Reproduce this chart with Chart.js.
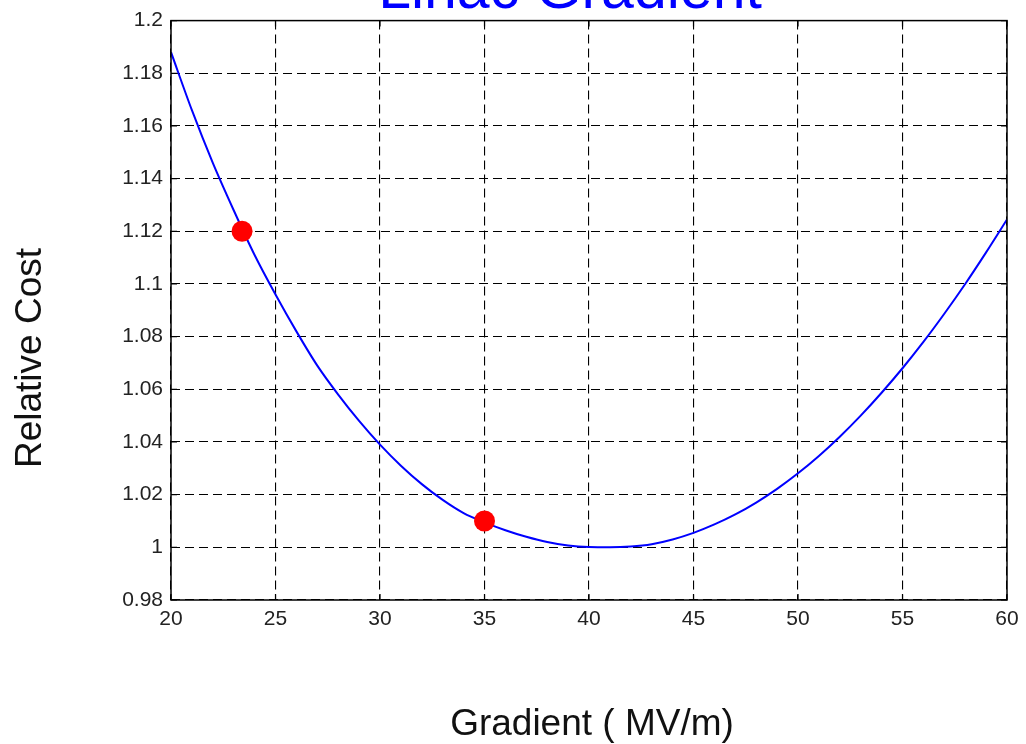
<!DOCTYPE html>
<html>
<head>
<meta charset="utf-8">
<script src="https://cdn.jsdelivr.net/npm/chart.js@4/dist/chart.umd.min.js"></script>
<style>
  body { margin: 0; background: #fff; }
  #wrap { width: 1026px; height: 744px; position: relative; }
</style>
</head>
<body>
<div id="wrap"><canvas id="grafico"></canvas></div>
<script>
// values
const gradiente = [20, 21, 22, 23, 24, 25, 26, 27, 28, 29, 30, 31, 32, 33, 34, 35, 36, 37, 38, 39, 40,
                   41, 42, 43, 44, 45, 46, 47, 48, 49, 50, 51, 52, 53, 54, 55, 56, 57, 58, 59, 60];
const costo = [1.188, 1.166, 1.146, 1.128, 1.111, 1.096, 1.082, 1.069, 1.058, 1.048, 1.039,
               1.031, 1.024, 1.018, 1.013, 1.0095, 1.0065, 1.004, 1.002, 1.0007, 1.0001,
               1.0, 1.0003, 1.0012, 1.003, 1.0055, 1.0087, 1.0125, 1.017, 1.0222, 1.0281,
               1.0347, 1.042, 1.05, 1.0587, 1.068, 1.078, 1.0887, 1.1, 1.112, 1.1245];
const puntosX = [23.4, 35];
const puntosY = [1.12, 1.01];

const titulo = 'Linac Gradient';
const tituloX = 'Gradient ( MV/m)';
const tituloY = 'Relative Cost';

const fuente = '"Liberation Sans", Arial, sans-serif';

const marco = {
    id: 'marco',
    afterDraw(chart) {
        const { ctx, chartArea: a, scales } = chart;
        ctx.save();
        ctx.strokeStyle = '#000';
        ctx.lineWidth = 1.5;
        ctx.setLineDash([]);
        ctx.strokeRect(a.left, a.top, a.right - a.left, a.bottom - a.top);

        // marcas hacia adentro, estilo matlab
        ctx.lineWidth = 1.2;
        const largo = 6;
        scales.x.ticks.forEach(t => {
            const px = scales.x.getPixelForValue(t.value);
            ctx.beginPath();
            ctx.moveTo(px, a.bottom); ctx.lineTo(px, a.bottom - largo);
            ctx.moveTo(px, a.top); ctx.lineTo(px, a.top + largo);
            ctx.stroke();
        });
        scales.y.ticks.forEach(t => {
            const py = scales.y.getPixelForValue(t.value);
            ctx.beginPath();
            ctx.moveTo(a.left, py); ctx.lineTo(a.left + largo, py);
            ctx.moveTo(a.right, py); ctx.lineTo(a.right - largo, py);
            ctx.stroke();
        });

        // textos
        ctx.fillStyle = '#0000ff';
        ctx.font = '59px ' + fuente;
        ctx.textAlign = 'center';
        ctx.textBaseline = 'alphabetic';
        ctx.fillText(titulo, 570, 8);

        ctx.fillStyle = '#111';
        ctx.font = '37px ' + fuente;
        ctx.textBaseline = 'middle';
        ctx.fillText(tituloX, 592, 725);

        ctx.translate(31, 358);
        ctx.rotate(-Math.PI / 2);
        ctx.fillText(tituloY, 0, 0);
        ctx.restore();
    }
};

const ctx = document.getElementById('grafico').getContext('2d');
const grafico = new Chart(ctx, {
    type: 'scatter',
    data: {
        datasets: [{
            label: 'cost',
            data: gradiente.map((g, i) => ({ x: g, y: costo[i] })),
            showLine: true,
            borderColor: '#0000ff',
            borderWidth: 2,
            pointRadius: 0,
            cubicInterpolationMode: 'monotone',
            fill: false,
            order: 2
        }, {
            label: 'points',
            data: puntosX.map((g, i) => ({ x: g, y: puntosY[i] })),
            showLine: false,
            pointRadius: 10.5,
            pointBackgroundColor: '#ff0000',
            pointBorderColor: '#ff0000',
            pointBorderWidth: 0,
            order: 1
        }]
    },
    options: {
        responsive: true,
        maintainAspectRatio: false,
        animation: false,
        layout: { padding: { top: 17, right: 19, left: 0, bottom: 0 } },
        plugins: {
            legend: { display: false },
            tooltip: { enabled: false }
        },
        scales: {
            x: {
                type: 'linear',
                min: 20,
                max: 60,
                afterFit(scale) { scale.height = 144; },
                ticks: {
                    stepSize: 5,
                    padding: 7,
                    color: '#222',
                    font: { family: fuente, size: 21 }
                },
                grid: { color: '#000', lineWidth: 1.1, drawTicks: false },
                border: { display: false, dash: [9, 5] }
            },
            y: {
                type: 'linear',
                min: 0.98,
                max: 1.2,
                afterFit(scale) { scale.width = 171; },
                ticks: {
                    stepSize: 0.02,
                    padding: 8,
                    color: '#222',
                    font: { family: fuente, size: 21 },
                    callback: v => String(Number(v.toFixed(2)))
                },
                grid: { color: '#000', lineWidth: 1.1, drawTicks: false },
                border: { display: false, dash: [9, 5] }
            }
        }
    },
    plugins: [marco]
});
</script>
</body>
</html>
